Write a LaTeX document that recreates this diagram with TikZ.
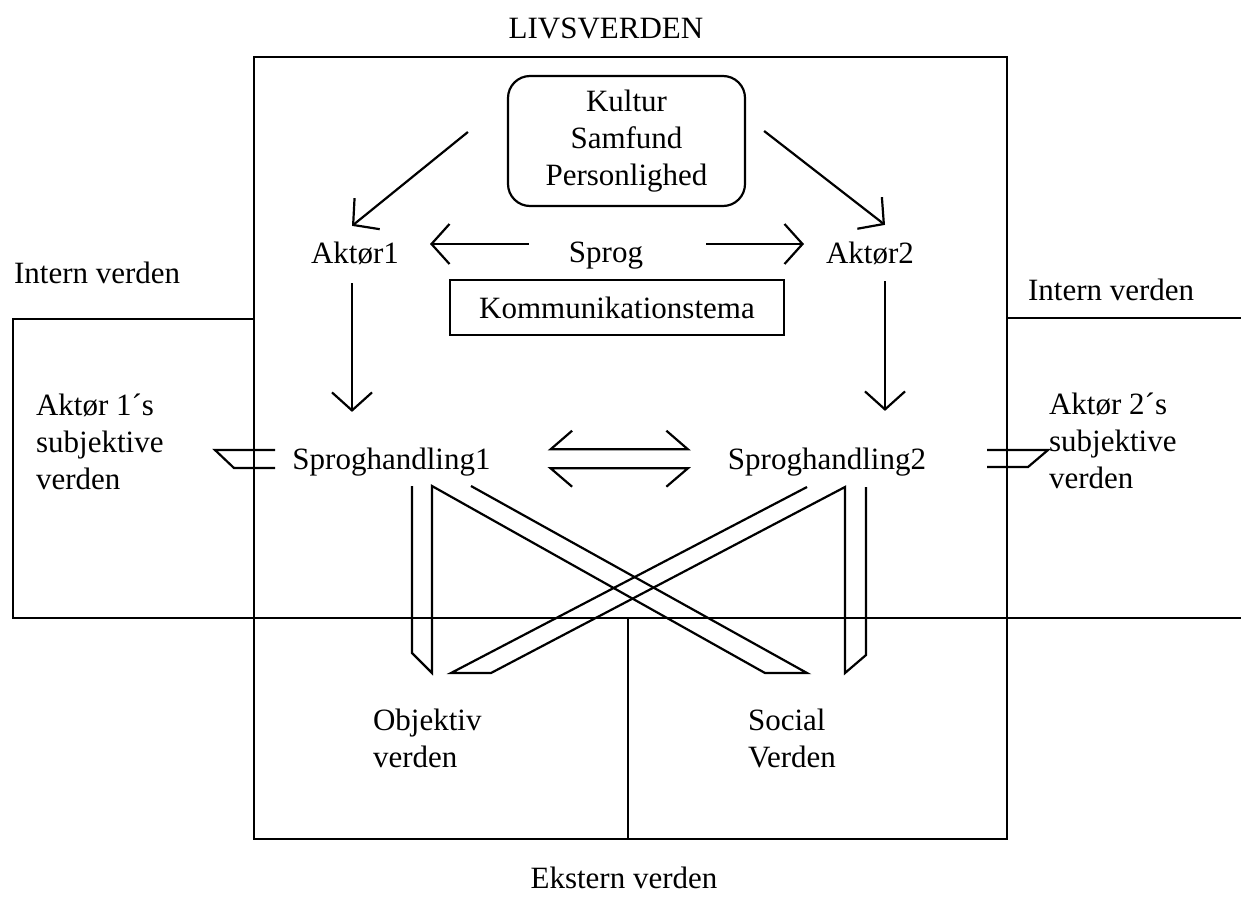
\documentclass[tikz,border=0pt]{standalone}
\usepackage{fontspec}
\setmainfont{Liberation Serif}
\usetikzlibrary{arrows.meta,calc}
\begin{document}
\begin{tikzpicture}[x=1pt,y=-1pt, line width=2.2pt,
  txt/.style={font=\fontsize{31}{37}\selectfont, inner sep=0pt},
  lbl/.style={txt, text height=21pt, text depth=7pt, anchor=base},
  arr/.style={-{Straight Barb[length=18pt,width=40pt]}},
  ]
\useasboundingbox (0,0) rectangle (1241,897);

% frames
\draw (254,57) rectangle (1007,839);
\draw (254,319) -- (13,319) -- (13,618) -- (1241,618);
\draw (1007,318) -- (1241,318);
\draw (628,618) -- (628,839);

% texts
\node[txt, anchor=base] (livs) at (606,38) {LIVSVERDEN};
\node[txt, draw, rounded corners=22pt, minimum width=237pt, minimum height=130pt, align=center] (kultur) at (626.5,141) {Kultur\\Samfund\\Personlighed};
\node[lbl] (akt1) at (355,263) {Aktør1};
\node[lbl] (sprog) at (606,262) {Sprog};
\node[lbl] (akt2) at (870,263) {Aktør2};
\node[txt, draw, minimum width=334pt, minimum height=55pt] (komm) at (617,307.5) {Kommunikationstema};
\node[lbl] (sh1) at (391.5,469) {Sproghandling1};
\node[lbl] (sh2) at (827,469) {Sproghandling2};
\node[lbl, anchor=base west] (intL) at (13,283) {Intern verden};
\node[lbl, anchor=base west] (intR) at (1027,300) {Intern verden};
\node[txt, align=left, anchor=north west] (subj1) at (35,393) {Aktør 1´s\\subjektive\\verden};
\node[txt, align=left, anchor=north west] (subj2) at (1048,392) {Aktør 2´s\\subjektive\\verden};
\node[txt, align=left, anchor=north west] (obj) at (372,708) {Objektiv\\verden};
\node[txt, align=left, anchor=north west] (soc) at (747,708) {Social\\Verden};
\node[lbl] (ekst) at (624,888) {Ekstern verden};

% arrows
\draw[arr] ($(kultur.west)+(-39,-9)$) -- ($(akt1.north)+(-3,-15)$);
\draw[arr] ($(kultur.east)+(18,-10)$) -- ($(akt2.north)+(15,-16)$);
\draw[arr] ($(sprog.west)+(-39,-11)$) -- ($(akt1.east)+(30,-12)$);
\draw[arr] ($(sprog.east)+(62,-11)$) -- ($(akt2.west)+(-21,-12)$);
\draw[arr] ($(akt1.south)+(-3,12)$) -- ($(sh1.north)+(-39.5,-35)$);
\draw[arr] ($(akt2.south)+(15,10)$) -- ($(sh2.north)+(58,-36)$);

% double arrow between speech acts
\draw ($(sh1.east)+(80.5,-31.3)$) -- ($(sh1.east)+(59,-12.7)$) -- ($(sh2.west)+(-39,-12.7)$) -- ($(sh2.west)+(-60.5,-31.3)$);
\draw ($(sh1.east)+(80.5,24.7)$) -- ($(sh1.east)+(59,6.3)$) -- ($(sh2.west)+(-39,6.3)$) -- ($(sh2.west)+(-60.5,24.7)$);

% links to the subjective worlds
\draw (275,450) -- (215,450) -- (234,468) -- (275,468);
\draw (987,450) -- (1048,450) -- (1028,467) -- (987,467);

% links to the external worlds
\draw (471,486) -- (807,673) -- (765,673) -- (432,486) -- (432,673) -- (412,653) -- (412,486);
\draw (807,487) -- (451,673) -- (491,673) -- (845,487) -- (845,673) -- (866,655) -- (866,487);
\end{tikzpicture}
\end{document}
